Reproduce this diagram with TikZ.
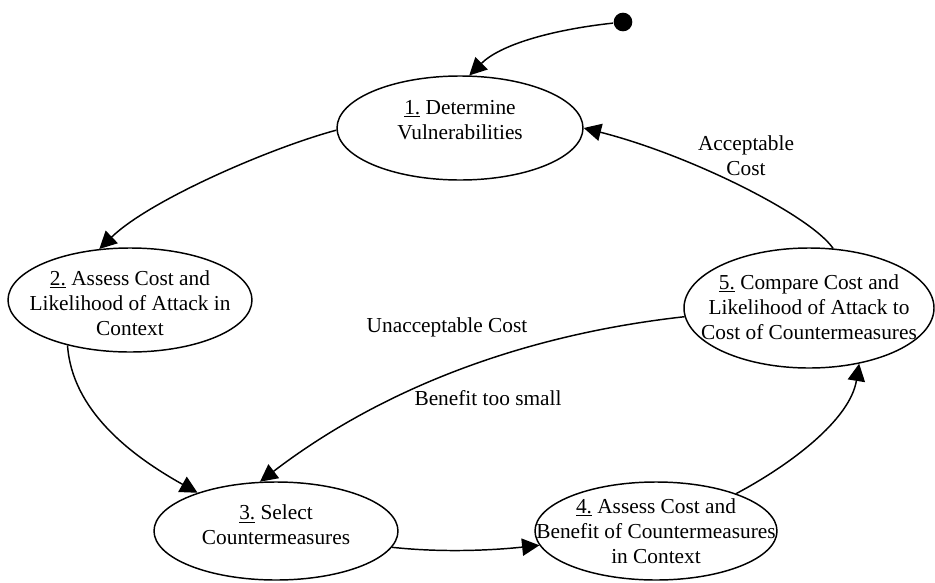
\documentclass[tikz,border=0pt]{standalone}
\usepackage{fontspec}
\setmainfont{Liberation Serif}
\usetikzlibrary{shapes.geometric,arrows.meta}
\tikzset{every node/.style={inner sep=0pt,font=\fontsize{16}{18.75}\selectfont}}

\begin{document}
\begin{tikzpicture}[x=0.75pt,y=-0.75pt,line width=1.1pt]
\useasboundingbox (0,0) rectangle (935,582);

\tikzstyle{stage}=[ellipse,draw,minimum width=183pt,minimum height=78pt]
\tikzstyle{txt}=[align=center]
\tikzstyle{lab}=[align=center]
\tikzstyle{dot}=[circle,fill,minimum size=14pt]
\tikzstyle{flow}=[-{Triangle[length=13pt,width=13pt]}]

% steps
\node[stage,minimum width=184.5pt] (s1) at (460,128) {};
\node[stage] (s2) at (130,300) {};
\node[stage,minimum height=73.5pt] (s3) at (276,531) {};
\node[stage,minimum width=181.5pt,minimum height=73.5pt] (s4) at (656,531) {};
\node[stage,minimum width=187.5pt,minimum height=90pt] (s5) at (809,308) {};

\node[txt] (t1) at (460,120) {\underline{1.} Determine\\Vulnerabilities};
\node[txt] (t2) at (130,303) {\underline{2.} Assess Cost and\\Likelihood of Attack in\\Context};
\node[txt] (t3) at (276,525) {\underline{3.} Select\\Countermeasures};
\node[txt] (t4) at (656,531) {\underline{4.} Assess Cost and\\Benefit of Countermeasures\\in Context};
\node[txt] (t5) at (809,307) {\underline{5.} Compare Cost and\\Likelihood of Attack to\\Cost of Countermeasures};

\node[dot] (d0) at (623,22) {};

% labels
\node[lab] (l1) at (746,156) {Acceptable\\Cost};
\node[lab,anchor=base] (l2) at (447,332) {Unacceptable Cost};
\node[lab,anchor=base] (l3) at (488,405) {Benefit too small};

% transitions
\draw[flow] (d0) .. controls (550,30) and (500,45) .. (s1.80);
\draw[flow] (s1.181) .. controls (270,148) and (150,200) .. (s2.121);
\draw[flow] (s2.216) .. controls (72,410) and (130,455) .. (s3.154);
\draw[flow] (s3.352) .. controls (445,553) and (495,550) .. (s4.187);
\draw[flow] (s4.25) .. controls (790,465) and (850,420) .. (s5.312);
\draw[flow] (s5.68) .. controls (810,215) and (690,155) .. (s1.0);
\draw[flow] (s5.184) .. controls (520,335) and (380,390) .. (s3.108);

\end{tikzpicture}
\end{document}
